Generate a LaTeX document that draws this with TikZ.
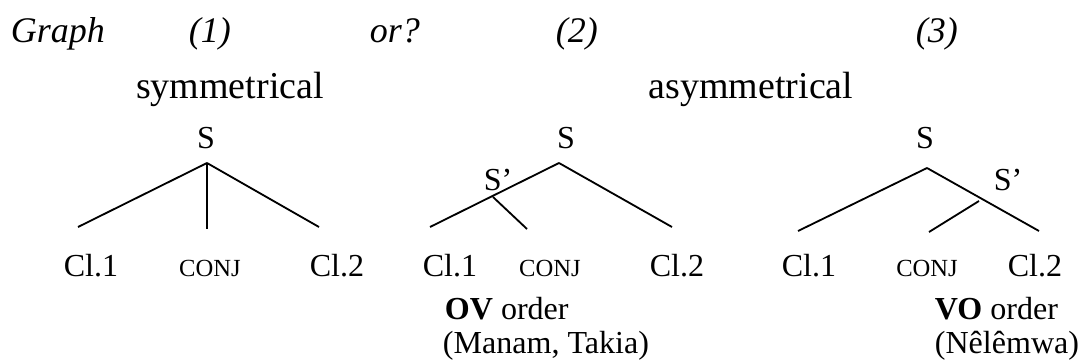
\documentclass[tikz,border=0pt]{standalone}
\usepackage{fontspec}
\setmainfont{Liberation Serif}
\usepackage{tikz}

\tikzset{
    lab/.style={inner sep=0pt, anchor=base, font=\fontsize{22.8}{26}\selectfont},
    conj/.style={inner sep=0pt, anchor=base, font=\fontsize{17.5}{20}\selectfont},
    title/.style={inner sep=0pt, anchor=base, font=\fontsize{27}{31}\selectfont},
    hdr/.style={inner sep=0pt, anchor=base west, font=\fontsize{25.6}{30}\selectfont\itshape},
    note/.style={inner sep=0pt, anchor=base west, font=\fontsize{22.8}{26}\selectfont}
}

\begin{document}
\begin{tikzpicture}[line width=1.3pt]
    \useasboundingbox (0,0) rectangle (27.05,9.05);

    \node[hdr] (graph) at (0.25,8) {Graph};
    \node[hdr] (n1) at (4.7,8) {(1)};
    \node[hdr] (or) at (9.225,8) {or?};
    \node[hdr] (n2) at (13.875,8) {(2)};
    \node[hdr] (n3) at (22.875,8) {(3)};

    \node[title] (sym) at (5.75,6.6) {symmetrical};
    \node[title] (asym) at (18.775,6.6) {asymmetrical};

    % (1)
    \node[lab] (s1) at (5.15,5.35) {S};
    \coordinate (r1) at (5.175,4.975);
    \coordinate (e1a) at (1.95,3.375);
    \coordinate (e1b) at (5.175,3.325);
    \coordinate (e1c) at (7.975,3.375);
    \draw (r1) -- (e1a);
    \draw (r1) -- (e1b);
    \draw (r1) -- (e1c);
    \node[lab] (cla1) at (2.275,2.15) {Cl.1};
    \node[conj] (cj1) at (5.25,2.15) {CONJ};
    \node[lab] (clb1) at (8.425,2.15) {Cl.2};

    % (2)
    \node[lab] (s2) at (14.15,5.35) {S};
    \node[note] (sp2) at (12.075,4.3) {S’};
    \coordinate (r2) at (13.975,4.975);
    \coordinate (b2) at (12.325,4.125);
    \coordinate (e2a) at (10.75,3.375);
    \coordinate (e2b) at (13.175,3.325);
    \coordinate (e2c) at (16.8,3.375);
    \draw (r2) -- (e2a);
    \draw (b2) -- (e2b);
    \draw (r2) -- (e2c);
    \node[lab] (cla2) at (11.25,2.15) {Cl.1};
    \node[conj] (cj2) at (13.75,2.15) {CONJ};
    \node[lab] (clb2) at (16.925,2.15) {Cl.2};
    \node[note] (ov) at (11.1,1.075) {\textbf{OV} order};
    \node[note] (ovl) at (11.05,0.225) {(Manam, Takia)};

    % (3)
    \node[lab] (s3) at (23.125,5.35) {S};
    \node[note] (sp3) at (24.825,4.3) {S’};
    \coordinate (r3) at (23.175,4.85);
    \coordinate (b3) at (24.475,4.025);
    \coordinate (e3a) at (19.95,3.275);
    \coordinate (e3b) at (23.225,3.25);
    \coordinate (e3c) at (25.975,3.275);
    \draw (r3) -- (e3a);
    \draw (b3) -- (e3b);
    \draw (r3) -- (e3c);
    \node[lab] (cla3) at (20.225,2.15) {Cl.1};
    \node[conj] (cj3) at (23.175,2.15) {CONJ};
    \node[lab] (clb3) at (25.875,2.15) {Cl.2};
    \node[note] (vo) at (23.35,1.075) {\textbf{VO} order};
    \node[note] (vol) at (23.35,0.225) {(Nêlêmwa)};
\end{tikzpicture}
\end{document}
